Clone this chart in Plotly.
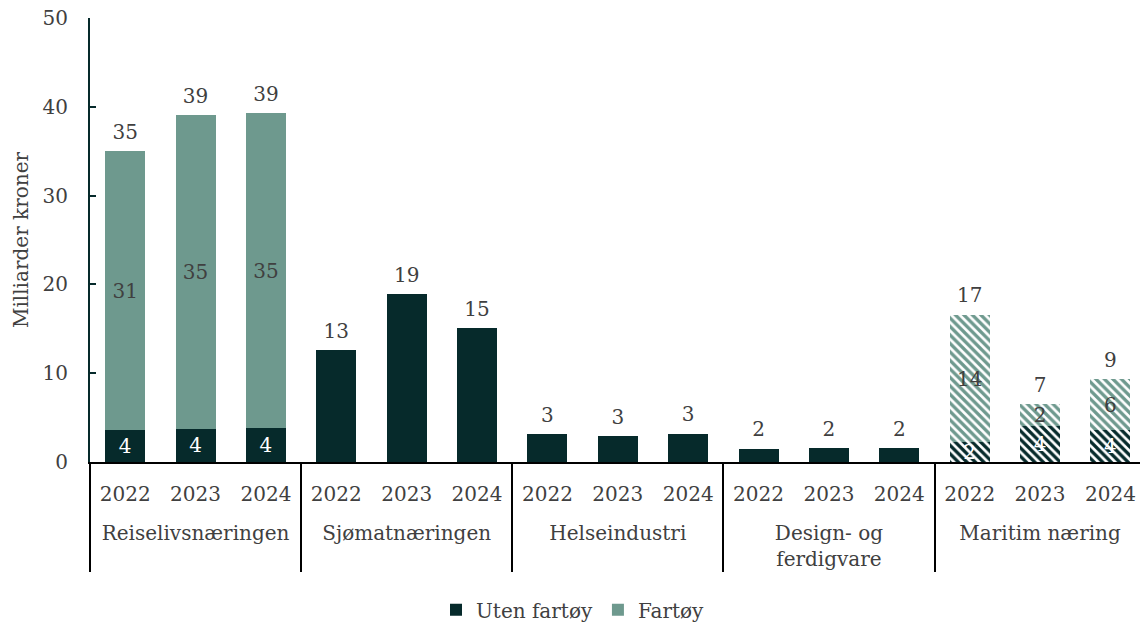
import plotly.graph_objects as go

# Data (milliarder kroner)
groups = ["Reiselivsnæringen", "Sjømatnæringen", "Helseindustri",
          "Design- og<br>ferdigvare", "Maritim næring"]
years = ["2022", "2023", "2024"]

uten_fartoy = [3.6, 3.75, 3.8, 12.6, 18.9, 15.1, 3.1, 2.9, 3.2,
               1.5, 1.6, 1.6, 2.2, 4.1, 3.55]
fartoy = [31.4, 35.3, 35.45, 0, 0, 0, 0, 0, 0,
          0, 0, 0, 14.4, 2.45, 5.8]

dark = "#062A2B"
green = "#6E998E"
txt = "#404040"
font_family = "DejaVu Serif"

# blank first line pushes the group names further below the years
x_outer = ["<br>" + g for g in groups for _ in years]
x_inner = [y for _ in groups for y in years]
hatched = [g == "Maritim næring" for g in groups for _ in years]

totals = [u + f for u, f in zip(uten_fartoy, fartoy)]
uten_text = [f"{u:.0f}" if f > 0 else "" for u, f in zip(uten_fartoy, fartoy)]
fart_text = [f"{f:.0f}" if f > 0 else "" for f in fartoy]
total_text = [f"{t:.0f}" for t in totals]


def hatch(color):
    return dict(shape=["\\" if h else "" for h in hatched], fgcolor=color,
                bgcolor="white", fgopacity=1, size=6, solidity=0.55)


fig = go.Figure()
fig.add_trace(go.Bar(
    x=[x_outer, x_inner], y=uten_fartoy, name="Uten fartøy",
    marker=dict(color=dark, line=dict(width=0), pattern=hatch(dark)),
    text=uten_text, textposition="inside", insidetextanchor="middle",
    constraintext="none", textangle=0,
    insidetextfont=dict(color="white", size=20, family=font_family),
    hoverinfo="skip",
))
fig.add_trace(go.Bar(
    x=[x_outer, x_inner], y=fartoy, name="Fartøy",
    marker=dict(color=green, line=dict(width=0), pattern=hatch(green)),
    text=fart_text, textposition="inside", insidetextanchor="middle",
    constraintext="none", textangle=0,
    insidetextfont=dict(color=txt, size=20, family=font_family),
    hoverinfo="skip",
))
# totals above bars (invisible marker gives a little extra gap)
fig.add_trace(go.Scatter(
    x=[x_outer, x_inner], y=totals, mode="markers+text", text=total_text,
    marker=dict(size=10, color="rgba(0,0,0,0)"),
    textposition="top center", textfont=dict(color=txt, size=20, family=font_family),
    showlegend=False, hoverinfo="skip",
))

fig.update_layout(
    width=1140, height=623,
    barmode="stack", bargap=0.433,
    plot_bgcolor="white", paper_bgcolor="white",
    font=dict(family=font_family, size=20, color=txt),
    margin=dict(l=90, r=0, t=18, b=161, autoexpand=False),
    legend=dict(orientation="h", x=0.46, xanchor="center", y=-0.333, yanchor="middle",
                font=dict(size=20, color=txt), traceorder="normal"),
)
fig.update_yaxes(
    range=[0, 50], dtick=10, showgrid=False, zeroline=False, automargin=False,
    showline=True, linecolor=dark, linewidth=2,
    ticks="inside", ticklen=6, tickwidth=2, tickcolor=dark,
    ticklabelstandoff=16,
    title=dict(text="Milliarder kroner", font=dict(size=20, color=txt), standoff=9),
)
fig.update_xaxes(
    type="multicategory", range=[-0.5, 14.42], automargin=False,
    showline=True, linecolor="black", linewidth=2,
    showdividers=True, dividercolor="black", dividerwidth=2,
    ticklabelstandoff=13,
    tickfont=dict(size=20, color=txt), showgrid=False,
)

# drop the default 8px body margin so the figure fills the window
fig.write_html("out.html", config={"displayModeBar": False},
               post_script="document.body.style.margin = '0';")
